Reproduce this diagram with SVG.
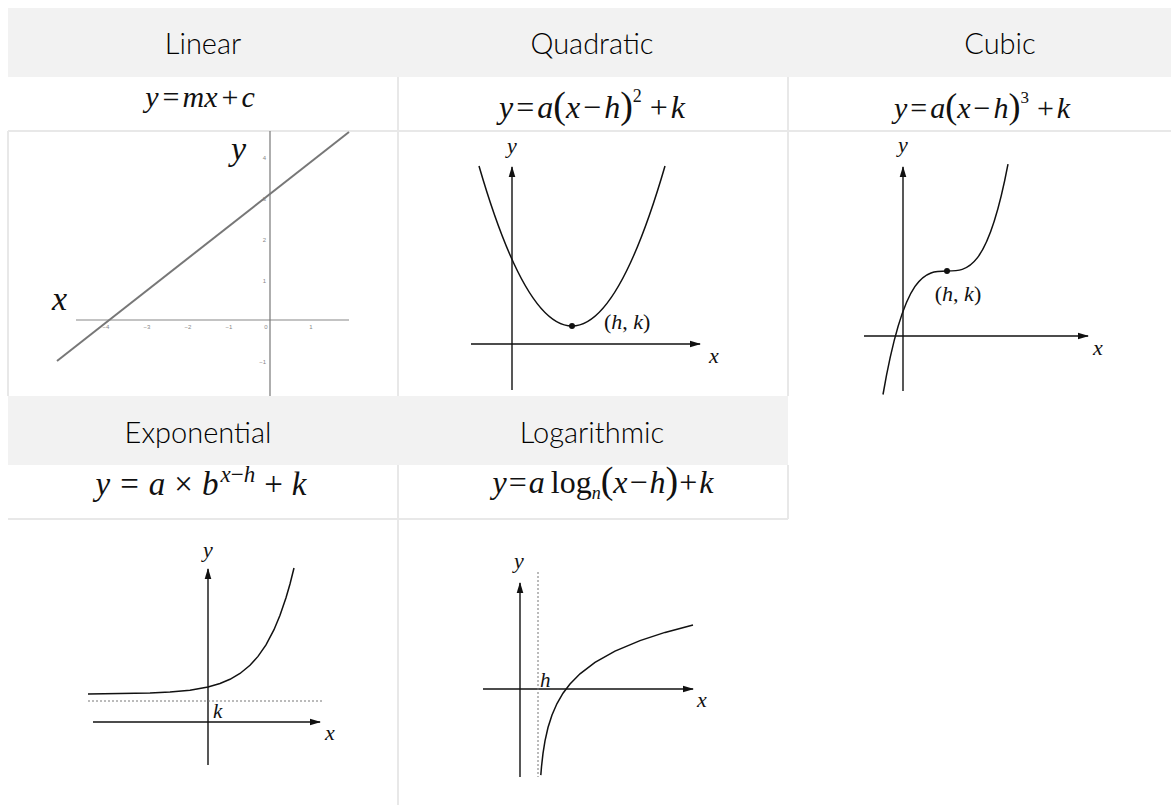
<svg xmlns="http://www.w3.org/2000/svg" width="1171" height="805" viewBox="0 0 1171 805">
<style>
.hdr{font-family:Lato,"Open Sans",sans-serif;font-weight:300;font-size:29px;fill:#000;text-anchor:middle}
.eq{font-family:"Liberation Serif",serif;fill:#111;text-anchor:middle}
.it{font-style:italic}
.ax{stroke:#111;stroke-width:1.4;fill:none}
.cv{stroke:#111;stroke-width:1.5;fill:none}
.lbl{font-family:"Liberation Serif",serif;font-style:italic;font-size:22px;fill:#111}
.pt{font-family:"Liberation Serif",serif;font-size:22px;fill:#111}
.tk{font-family:"Liberation Sans",sans-serif;font-size:6px;fill:#888}
.grid{stroke:#e8e8e8;stroke-width:2;fill:none}
.dot{stroke:#777;stroke-width:1;stroke-dasharray:2 2;fill:none}
</style>
<defs>
<marker id="arr" markerUnits="userSpaceOnUse" markerWidth="11" markerHeight="8" refX="10" refY="4" orient="auto">
<path d="M0,0.7 L11,4 L0,7.3 z" fill="#111"/>
</marker>
</defs>
<rect width="1171" height="805" fill="#fff"/>
<g id="grid">
<rect x="8" y="8" width="1163" height="69" fill="#f2f2f2"/>
<rect x="8" y="396" width="780" height="69" fill="#f2f2f2"/>
<line class="grid" x1="8" y1="131" x2="1171" y2="131"/>
<line class="grid" x1="8" y1="519" x2="788" y2="519"/>
<line class="grid" x1="398" y1="77" x2="398" y2="396"/>
<line class="grid" x1="788" y1="77" x2="788" y2="396"/>
<line class="grid" x1="398" y1="465" x2="398" y2="805"/>
<line class="grid" x1="788" y1="465" x2="788" y2="519"/>
<line class="grid" x1="8" y1="131" x2="8" y2="396"/>
</g>
<g id="linear">
<text class="hdr" x="203" y="54">Linear</text>
<text class="eq it" x="200" y="107" font-size="30">y<tspan dx="4" font-style="normal">=</tspan><tspan dx="3">mx</tspan><tspan dx="4" font-style="normal">+</tspan><tspan dx="3">c</tspan></text>
<line x1="76" y1="320" x2="349" y2="320" stroke="#888" stroke-width="1.2"/>
<line x1="270" y1="131" x2="270" y2="396" stroke="#777" stroke-width="1.2"/>
<line x1="57" y1="361" x2="349" y2="132" stroke="#777" stroke-width="2"/>
<text class="tk" x="106" y="329" text-anchor="middle">−4</text>
<text class="tk" x="147" y="329" text-anchor="middle">−3</text>
<text class="tk" x="188" y="329" text-anchor="middle">−2</text>
<text class="tk" x="229" y="329" text-anchor="middle">−1</text>
<text class="tk" x="266" y="329" text-anchor="middle">0</text>
<text class="tk" x="311" y="329" text-anchor="middle">1</text>
<text class="tk" x="266" y="160" text-anchor="end">4</text>
<text class="tk" x="266" y="201" text-anchor="end">3</text>
<text class="tk" x="266" y="242" text-anchor="end">2</text>
<text class="tk" x="266" y="283" text-anchor="end">1</text>
<text class="tk" x="266" y="364" text-anchor="end">−1</text>
<text class="lbl" x="231" y="160" style="font-size:34px">y</text>
<text class="lbl" x="52" y="310" style="font-size:34px">x</text>
</g>
<g id="quadratic">
<text class="hdr" x="592" y="54">Quadratic</text>
<text class="eq" x="592" y="118" font-size="32"><tspan class="it">y</tspan><tspan dx="3">=</tspan><tspan class="it" dx="3">a</tspan><tspan font-size="38">(</tspan><tspan class="it">x</tspan><tspan dx="3">−</tspan><tspan class="it" dx="3">h</tspan><tspan font-size="38">)</tspan><tspan font-size="18" dy="-16">2</tspan><tspan dy="16" dx="8">+</tspan><tspan class="it" dx="3">k</tspan></text>
<line class="ax" x1="512" y1="390" x2="512" y2="167" marker-end="url(#arr)"/>
<line class="ax" x1="471" y1="344" x2="700" y2="344" marker-end="url(#arr)"/>
<path class="cv" d="M479,166 Q572,486 665,166"/>
<circle cx="572" cy="326" r="3" fill="#111"/>
<text class="lbl" x="512" y="153" text-anchor="middle">y</text>
<text class="lbl" x="714" y="363" text-anchor="middle">x</text>
<text class="pt" x="604" y="329">(<tspan class="it">h</tspan>, <tspan class="it">k</tspan>)</text>
</g>
<g id="cubic">
<text class="hdr" x="1000" y="54">Cubic</text>
<text class="eq" x="982" y="118" font-size="30"><tspan class="it">y</tspan><tspan dx="3">=</tspan><tspan class="it" dx="3">a</tspan><tspan font-size="36">(</tspan><tspan class="it">x</tspan><tspan dx="3">−</tspan><tspan class="it" dx="3">h</tspan><tspan font-size="36">)</tspan><tspan font-size="17" dy="-15">3</tspan><tspan dy="15" dx="8">+</tspan><tspan class="it" dx="3">k</tspan></text>
<line class="ax" x1="903" y1="391" x2="903" y2="167" marker-end="url(#arr)"/>
<line class="ax" x1="864" y1="336" x2="1088" y2="336" marker-end="url(#arr)"/>
<path class="cv" d="M883,394.5 C924.7,153.3 966.3,383.2 1008,164.1"/>
<circle cx="947" cy="271" r="3" fill="#111"/>
<text class="lbl" x="903" y="152" text-anchor="middle">y</text>
<text class="lbl" x="1098" y="355" text-anchor="middle">x</text>
<text class="pt" x="958" y="301" text-anchor="middle">(<tspan class="it">h</tspan>, <tspan class="it">k</tspan>)</text>
</g>
<g id="exponential">
<text class="hdr" x="198" y="443">Exponential</text>
<text class="eq" x="201" y="495" font-size="33"><tspan class="it">y</tspan><tspan dx="10">=</tspan><tspan class="it" dx="10">a</tspan><tspan dx="9">×</tspan><tspan class="it" dx="9">b</tspan><tspan class="it" font-size="23" dy="-13" dx="2">x</tspan><tspan font-size="23">−</tspan><tspan class="it" font-size="23">h</tspan><tspan dy="13" dx="9">+</tspan><tspan class="it" dx="9">k</tspan></text>
<line class="ax" x1="208" y1="765" x2="208" y2="569" marker-end="url(#arr)"/>
<line class="ax" x1="93" y1="722" x2="320" y2="722" marker-end="url(#arr)"/>
<line class="dot" x1="88" y1="701" x2="322" y2="701"/>
<polyline class="cv" points="88,693.9 120,693.6 150,693 170,692 190,690.2 208,687 220,683.5 230,679.3 240,673.5 250,665.3 258,656.4 266,644.9 274,629.7 280,615.3 286,597.8 290,584 294,568"/>
<text class="lbl" x="208" y="557" text-anchor="middle">y</text>
<text class="lbl" x="330" y="740" text-anchor="middle">x</text>
<text class="lbl" x="213" y="718" style="font-size:21px">k</text>
</g>
<g id="logarithmic">
<text class="hdr" x="592" y="443">Logarithmic</text>
<text class="eq" x="603" y="493" font-size="32"><tspan class="it">y</tspan><tspan dx="2">=</tspan><tspan class="it" dx="2">a</tspan><tspan dx="6">log</tspan><tspan class="it" font-size="18" dy="6">n</tspan><tspan font-size="38" dy="-6">(</tspan><tspan class="it">x</tspan><tspan dx="2">−</tspan><tspan class="it" dx="2">h</tspan><tspan font-size="38">)</tspan><tspan dx="1">+</tspan><tspan class="it" dx="2">k</tspan></text>
<line class="ax" x1="520" y1="777" x2="520" y2="583" marker-end="url(#arr)"/>
<line class="ax" x1="483" y1="689" x2="693" y2="689" marker-end="url(#arr)"/>
<line class="dot" x1="538" y1="572" x2="538" y2="777"/>
<polyline class="cv" points="540.8,775.1 541.5,766.7 543,753.4 545,740.8 548,727.5 552,714.9 557,703.5 563,693.2 570,684 580,673.8 595,662.4 615,651.1 640,640.6 665,632.4 693,625"/>
<text class="lbl" x="519" y="568" text-anchor="middle">y</text>
<text class="lbl" x="702" y="707" text-anchor="middle">x</text>
<text class="lbl" x="540" y="687" style="font-size:21px">h</text>
</g>
</svg>
